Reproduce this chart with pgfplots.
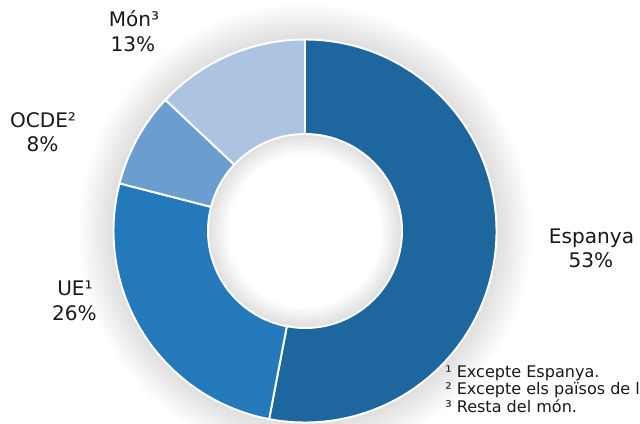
\documentclass[border=0pt]{standalone}
\usepackage{pgfplots}
\pgfplotsset{compat=1.18}
\usepackage{pgfplotstable}
\usepackage{fontspec}
\setmainfont{DejaVu Sans}
\definecolor{cEsp}{HTML}{1D679E}
\definecolor{cUE}{HTML}{2479BA}
\definecolor{cOCDE}{HTML}{6C9DCF}
\definecolor{cMon}{HTML}{ADC3E2}
% shares (%)
\pgfplotstableread{
label   value
Espanya 53
UE      26
OCDE    8
Mon     13
}\shares
\def\Ro{1.915in}
\def\Ri{0.97in}
% sector between cumulative percentages #2 and #3
\newcommand{\sector}[3]{%
  \fill[#1, draw=white, line width=1.4pt]
    (axis cs:305,192) ++({90-3.6*#2}:\Ro)
    arc[start angle={90-3.6*#2}, end angle={90-3.6*#3}, radius=\Ro]
    -- ++({90-3.6*#3}:{\Ri-\Ro})
    arc[start angle={90-3.6*#3}, end angle={90-3.6*#2}, radius=\Ri]
    -- cycle;}
\tikzset{lab/.style={anchor=base, inner sep=0, text=black!90, font=\fontsize{14.5}{17}\selectfont},
         fn/.style={anchor=base west, inner sep=0, text=black!90, font=\fontsize{11.6}{12.6}\selectfont}}
\begin{document}
\begin{tikzpicture}
\begin{axis}[
  scale only axis, width=6.4in, height=4.23in,
  xmin=0, xmax=640, ymin=0, ymax=423,
  hide axis, clip=false]
\coordinate (A) at (axis cs:0,0);
\coordinate (B) at (axis cs:640,423);
% soft shadow
\pgfplotsinvokeforeach{1,...,16}{
  \fill[black, opacity=0.008, even odd rule]
    (axis cs:305,192) circle[radius={1.915in+#1*0.022in}]
    (axis cs:305,192) circle[radius={0.97in-#1*0.013in}];
}
% sectors: Espanya 53, UE 26, OCDE 8, Mon 13 (cumulative)
\sector{cEsp}{0}{53}
\sector{cUE}{53}{79}
\sector{cOCDE}{79}{87}
\sector{cMon}{87}{100}
% labels
\node[lab] at (axis cs:591.5,180) {Espanya};
\node[lab] at (axis cs:591,156) {53\%};
\node[lab] at (axis cs:75,128) {UE¹};
\node[lab] at (axis cs:74.5,103) {26\%};
\node[lab] at (axis cs:43,295) {OCDE²};
\node[lab] at (axis cs:42.5,271) {8\%};
\node[lab] at (axis cs:134,396) {Món³};
\node[lab] at (axis cs:133,371) {13\%};
\node[fn] at (axis cs:445,46) {¹ Excepte Espanya.};
\node[fn] at (axis cs:445,29) {² Excepte els països de la UE.};
\node[fn] at (axis cs:445,11) {³ Resta del món.};
\end{axis}
\pgfresetboundingbox
\path[use as bounding box] (A) rectangle (B);
\end{tikzpicture}
\end{document}
